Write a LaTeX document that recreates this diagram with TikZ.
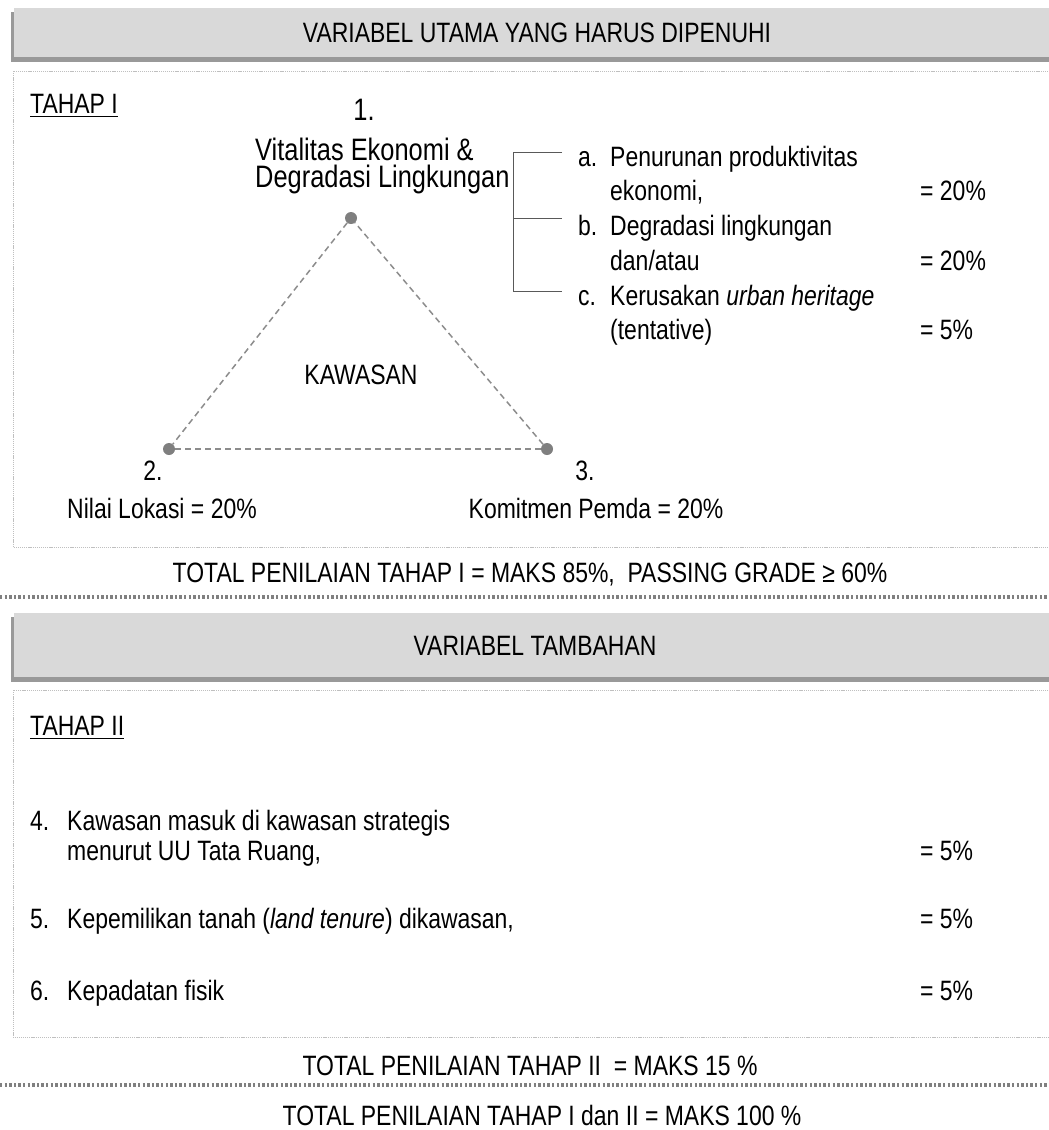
\documentclass[tikz,border=0pt]{standalone}
\usepackage{fontspec}
\setmainfont{Liberation Sans}[FakeStretch=0.82]
\newcommand\fsz[1]{\fontsize{#1}{#1}\selectfont}
\definecolor{hdrdark}{HTML}{999999}
\definecolor{hdrlight}{HTML}{D9D9D9}
\definecolor{panelc}{HTML}{BFBFBF}
\definecolor{sepc}{HTML}{808080}
\definecolor{tric}{HTML}{8C8C8C}
\definecolor{dotc}{HTML}{7F7F7F}
\definecolor{brc}{HTML}{595959}
\begin{document}
\begin{tikzpicture}[x=1pt,y=-1pt,
  txt/.style={inner sep=0pt, font=\fsz{28}},
  big/.style={inner sep=0pt, font=\fsz{31}},
  panel/.style={draw=panelc, line width=0.9pt, dash pattern=on 1.2pt off 0.9pt},
  sepline/.style={draw=sepc, line width=3.2pt, dash pattern=on 2.4pt off 2.2pt},
  triside/.style={draw=tric, line width=1.5pt, dash pattern=on 6pt off 4pt},
  vtx/.style={circle, fill=dotc, inner sep=0pt, minimum size=12pt},
  brack/.style={draw=brc, line width=0.8pt},
  uline/.style={line width=1.8pt}]
\useasboundingbox (0,0) rectangle (1049,1130);

% ---------- header 1
\fill[hdrdark] (11,12) rectangle (1052,62);
\fill[hdrlight] (14,8) rectangle (1052,57);
\node[txt, anchor=base] (h1) at (537,42) {VARIABEL UTAMA YANG HARUS DIPENUHI};

% ---------- panel 1
\draw[panel] (13,71) rectangle (1052,547);
\node[txt, anchor=base west] (t1) at (30,113) {TAHAP I};
\draw[uline] ([yshift=-3.5pt]t1.base west) -- ([yshift=-3.5pt]t1.base east);

\node[vtx] (v1) at (351,218) {};
\node[vtx] (v2) at (169,449) {};
\node[vtx] (v3) at (547,449) {};
\draw[triside] (v1) -- (v2);
\draw[triside] (v2) -- (v3);
\draw[triside] (v3) -- (v1);

\node[big, anchor=base] (n1) at (364,120) {1.};
\node[inner sep=0pt, align=left, anchor=north west, font=\fontsize{31}{27}\selectfont] (l1) at (255,137.5)
  {Vitalitas Ekonomi \&\\Degradasi Lingkungan};
\node[txt, anchor=base] (kw) at (361,384) {KAWASAN};
\node[txt, anchor=base] (n2) at (153,480) {2.};
\node[txt, anchor=base] (l2) at (162,518) {Nilai Lokasi = 20\%};
\node[txt, anchor=base] (n3) at (585,480) {3.};
\node[txt, anchor=base] (l3) at (596,518) {Komitmen Pemda = 20\%};

% bracket
\coordinate (bt) at (513,152);
\coordinate (bm) at (513,218);
\coordinate (bb) at (513,291);
\coordinate (bte) at (562,152);
\coordinate (bme) at (562,218);
\coordinate (bbe) at (562,291);
\draw[brack] (bte) -- (bt) -- (bb) -- (bbe);
\draw[brack] (bm) -- (bme);

\node[txt, anchor=base west] (ia) at (578,166) {a.};
\node[txt, anchor=base west] (ia1) at (610,166) {Penurunan produktivitas};
\node[txt, anchor=base west] (ia2) at (610,200) {ekonomi,};
\node[txt, anchor=base west] (pa) at (920,200) {= 20\%};
\node[txt, anchor=base west] (ib) at (578,235) {b.};
\node[txt, anchor=base west] (ib1) at (610,235) {Degradasi lingkungan};
\node[txt, anchor=base west] (ib2) at (610,270) {dan/atau};
\node[txt, anchor=base west] (pb) at (920,270) {= 20\%};
\node[txt, anchor=base west] (ic) at (578,305) {c.};
\node[txt, anchor=base west] (ic1) at (610,305) {Kerusakan \textit{urban heritage}};
\node[txt, anchor=base west] (ic2) at (610,339) {(tentative)};
\node[txt, anchor=base west] (pc) at (920,339) {= 5\%};

\node[txt, anchor=base] (tot1) at (530,582) {TOTAL PENILAIAN TAHAP I = MAKS 85\%,\ \ PASSING GRADE ≥ 60\%};
\coordinate (s1a) at (0,597);
\coordinate (s1b) at (1052,597);
\draw[sepline] (s1a) -- (s1b);

% ---------- header 2
\fill[hdrdark] (11,617) rectangle (1052,682);
\fill[hdrlight] (14,613) rectangle (1052,677);
\node[txt, anchor=base] (h2) at (535,655) {VARIABEL TAMBAHAN};

% ---------- panel 2
\draw[panel] (13,690) rectangle (1052,1037);
\node[txt, anchor=base west] (t2) at (30,735) {TAHAP II};
\draw[uline] ([yshift=-3.5pt]t2.base west) -- ([yshift=-3.5pt]t2.base east);

\node[txt, anchor=base west] (i4) at (30,830) {4.};
\node[txt, anchor=base west] (i41) at (67,830) {Kawasan masuk di kawasan strategis};
\node[txt, anchor=base west] (i42) at (67,860) {menurut UU Tata Ruang,};
\node[txt, anchor=base west] (p4) at (920,860) {= 5\%};
\node[txt, anchor=base west] (i5) at (30,928) {5.};
\node[txt, anchor=base west] (i51) at (67,928) {Kepemilikan tanah (\textit{land tenure}) dikawasan,};
\node[txt, anchor=base west] (p5) at (920,928) {= 5\%};
\node[txt, anchor=base west] (i6) at (30,1000) {6.};
\node[txt, anchor=base west] (i61) at (67,1000) {Kepadatan fisik};
\node[txt, anchor=base west] (p6) at (920,1000) {= 5\%};

\node[txt, anchor=base] (tot2) at (530,1075) {TOTAL PENILAIAN TAHAP II\ \ = MAKS 15 \%};
\coordinate (s2a) at (0,1085);
\coordinate (s2b) at (1052,1085);
\draw[sepline] (s2a) -- (s2b);
\node[txt, anchor=base] (tot3) at (542,1125) {TOTAL PENILAIAN TAHAP I dan II = MAKS 100 \%};
\end{tikzpicture}
\end{document}
